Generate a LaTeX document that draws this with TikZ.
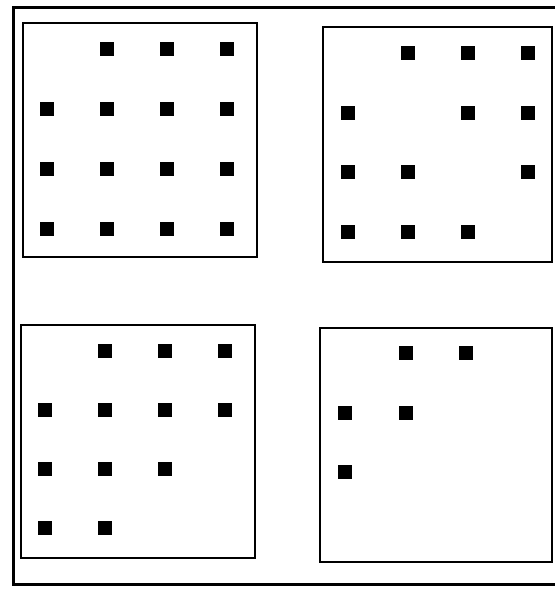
\documentclass[tikz,border=0pt]{standalone}
\begin{document}
\begin{tikzpicture}[x=1pt,y=-1pt,
  frame/.style={draw=black,line width=3pt},
  panel/.style={draw=black,line width=1.5pt},
  dot/.style={fill=black,minimum size=14pt,inner sep=0pt,draw=none,rectangle}]
\useasboundingbox (0,0) rectangle (555,590);
% outer frame (right edge runs past the picture)
\draw[frame] (570,7) -- (13,7) -- (13,584) -- (570,584);
% panels
\draw[panel] (23,23) rectangle (257,257);
\draw[panel] (323,27) rectangle (552,262);
\draw[panel] (21,325) rectangle (255,558);
\draw[panel] (320,328) rectangle (552,562);
% top-left
\foreach \c/\r [count=\i] in {2/1,3/1,4/1,1/2,2/2,3/2,4/2,1/3,2/3,3/3,4/3,1/4,2/4,3/4,4/4}
  \node[dot] (tl\i) at ({47+60*(\c-1)},{49+60*(\r-1)}) {};
% top-right
\foreach \c/\r [count=\i] in {2/1,3/1,4/1,1/2,3/2,4/2,1/3,2/3,4/3,1/4,2/4,3/4}
  \node[dot] (tr\i) at ({348+60*(\c-1)},{53+59.5*(\r-1)}) {};
% bottom-left
\foreach \c/\r [count=\i] in {2/1,3/1,4/1,1/2,2/2,3/2,4/2,1/3,2/3,3/3,1/4,2/4}
  \node[dot] (bl\i) at ({45+60*(\c-1)},{351+59*(\r-1)}) {};
% bottom-right
\foreach \c/\r [count=\i] in {2/1,3/1,1/2,2/2,1/3}
  \node[dot] (br\i) at ({345+60.5*(\c-1)},{353+59.5*(\r-1)}) {};
\end{tikzpicture}
\end{document}
